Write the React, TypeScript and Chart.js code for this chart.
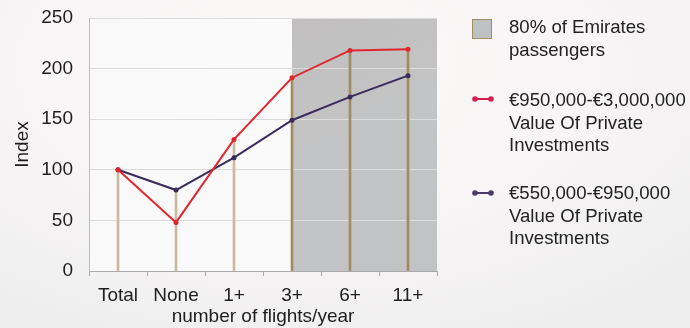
import React, { useEffect, useRef } from 'react';
import { Chart, registerables } from 'chart.js';

Chart.register(...registerables);

// Flight-frequency buckets and index values (Total = 100)
const categories = ['Total', 'None', '1+', '3+', '6+', '11+'];
const highInvest = [100, 48, 130, 191, 218, 219]; // €950,000-€3,000,000
const midInvest = [100, 80, 112, 149, 172, 193]; // €550,000-€950,000
const yTicks = [0, 50, 100, 150, 200, 250];
const shadedFrom = '3+'; // 80% of Emirates passengers from here on

const FONT = '"Liberation Sans", Arial, Helvetica, sans-serif';
const FS = 19;
const RED = '#e0272e';
const PURPLE = '#3b2b5c';

// Plot background and the grey band drawn under the grid lines
const backdrop = {
  id: 'backdrop',
  beforeDraw(chart: any) {
    const { ctx, chartArea, scales } = chart;
    const { left, right, top, bottom } = chartArea;
    ctx.save();
    ctx.fillStyle = 'rgba(250,249,249,0.9)';
    ctx.fillRect(left, top, right - left, bottom - top);
    const start = scales.x.getPixelForValue(categories.indexOf(shadedFrom));
    const g = ctx.createLinearGradient(start, top, right, bottom);
    g.addColorStop(0, '#c1bfc0');
    g.addColorStop(0.5, '#c3c4c5');
    g.addColorStop(1, '#c1c2c3');
    ctx.fillStyle = g;
    ctx.fillRect(start, top, right - start, bottom - top);
    ctx.restore();
  },
};

export default function App() {
  const ref = useRef<HTMLCanvasElement | null>(null);

  useEffect(() => {
    if (!ref.current) return;
    const shadeIdx = categories.indexOf(shadedFrom);
    const dropValues = categories.map((_, i) => Math.max(highInvest[i], midInvest[i]));
    const dropColors = categories.map((_, i) => (i >= shadeIdx ? '#a28b62' : '#c9b99f'));

    const chart = new Chart(ref.current, {
      type: 'line',
      data: {
        labels: categories,
        datasets: [
          {
            label: '€950,000-€3,000,000 Value Of Private Investments',
            data: highInvest,
            borderColor: RED,
            backgroundColor: RED,
            borderWidth: 2,
            pointRadius: 2.5,
            pointBorderWidth: 0,
            order: 1,
          },
          {
            label: '€550,000-€950,000 Value Of Private Investments',
            data: midInvest,
            borderColor: PURPLE,
            backgroundColor: PURPLE,
            borderWidth: 2,
            pointRadius: 2.5,
            pointBorderWidth: 0,
            order: 2,
          },
          {
            type: 'bar',
            label: 'drop',
            data: dropValues,
            backgroundColor: dropColors,
            barThickness: 2,
            borderWidth: 0,
            order: 3,
          } as any,
        ],
      },
      options: {
        animation: false,
        responsive: false,
        maintainAspectRatio: false,
        layout: { padding: { top: 18, right: 13, left: 0, bottom: 0 } },
        plugins: {
          legend: { display: false },
          tooltip: { enabled: false },
        },
        scales: {
          x: {
            offset: true,
            grid: {
              offset: true,
              drawOnChartArea: false,
              drawTicks: true,
              tickLength: 5,
              color: '#a9a9a9',
            },
            border: { color: '#a9a9a9', width: 1 },
            ticks: {
              color: '#1e1e1e',
              font: { family: FONT, size: FS },
              padding: 8,
              maxRotation: 0,
            },
            title: {
              display: true,
              text: 'number of flights/year',
              color: '#1e1e1e',
              font: { family: FONT, size: FS },
              padding: { top: 0, bottom: 0 },
            },
            afterFit(scale: any) {
              scale.height = 57;
            },
          },
          y: {
            min: 0,
            max: 250,
            afterBuildTicks(scale: any) {
              scale.ticks = yTicks.map((v) => ({ value: v }));
            },
            grid: {
              color: '#dcdcdc',
              drawTicks: true,
              tickLength: 16,
              tickColor: 'rgba(0,0,0,0)',
            },
            border: { color: '#bdbdbd', width: 1 },
            ticks: {
              color: '#1e1e1e',
              font: { family: FONT, size: FS },
              padding: 0,
            },
            title: {
              display: true,
              text: 'Index',
              color: '#1e1e1e',
              font: { family: FONT, size: FS },
              padding: { top: 11, bottom: 0 },
            },
            afterFit(scale: any) {
              scale.width = 89;
            },
          },
        },
      },
      plugins: [backdrop],
    });
    return () => chart.destroy();
  }, []);

  const text: React.CSSProperties = {
    position: 'absolute',
    left: 509,
    fontFamily: FONT,
    fontSize: 18.6,
    lineHeight: '22.7px',
    color: '#222',
    whiteSpace: 'nowrap',
  };

  const lineIcon = (color: string, top: number) => (
    <svg
      width={24}
      height={10}
      style={{ position: 'absolute', left: 471, top: top - 5 }}
    >
      <line x1={4} y1={5} x2={20} y2={5} stroke={color} strokeWidth={2} />
      <circle cx={4} cy={5} r={2.8} fill={color} />
      <circle cx={20} cy={5} r={2.8} fill={color} />
    </svg>
  );

  return (
    <div
      style={{
        position: 'fixed',
        left: 0,
        top: 0,
        width: 690,
        height: 328,
        overflow: 'hidden',
        background:
          'radial-gradient(ellipse 75% 90% at 45% 20%, #fbf8f8 0%, #f7f5f5 55%, #efeeee 100%)',
      }}
    >
      <canvas
        ref={ref}
        width={450}
        height={328}
        style={{ position: 'absolute', left: 0, top: 0, width: 450, height: 328 }}
      />
      <div
        style={{
          position: 'absolute',
          left: 472,
          top: 19,
          width: 18,
          height: 18,
          background: '#bec1c2',
          border: '1px solid #a58c65',
        }}
      />
      <div style={{ ...text, top: 16 }}>
        80% of Emirates
        <br />
        passengers
      </div>
      {lineIcon('#d81e4e', 99)}
      <div style={{ ...text, top: 89 }}>
        €950,000-€3,000,000
        <br />
        Value Of Private
        <br />
        Investments
      </div>
      {lineIcon('#4a3a6b', 193)}
      <div style={{ ...text, top: 182 }}>
        €550,000-€950,000
        <br />
        Value Of Private
        <br />
        Investments
      </div>
    </div>
  );
}
